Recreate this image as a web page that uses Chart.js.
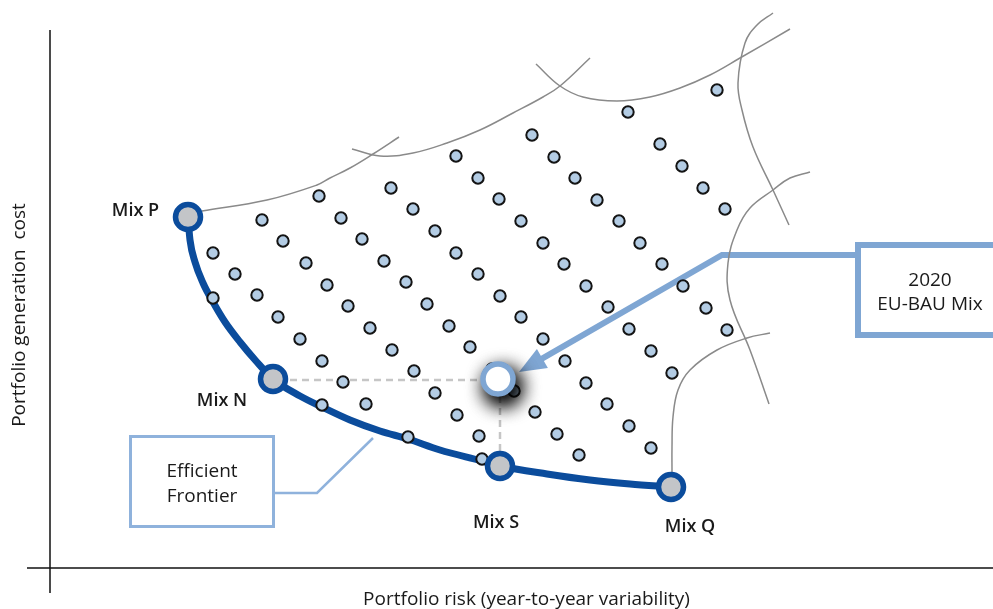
<!DOCTYPE html>
<html><head><meta charset="utf-8">
<script src="https://cdn.jsdelivr.net/npm/chart.js@4.4.1/dist/chart.umd.min.js"></script>
<style>html,body{margin:0;padding:0;background:#fff;overflow:hidden}canvas{display:block}</style>
</head><body>
<canvas id="c" width="993" height="609"></canvas>
<script>
// Units: risk (x) and generation cost (y), origin at the axes crossing.
// Candidate portfolio mixes (small dots), listed along their diagonals
const dotRisk = [
  163,185,207,228,250,272,293,316,
  163,272,358,432,
  212,233,256,277,298,320,342,364,385,407,429,
  269,291,312,334,356,377,399,420,442,464,485,507,529,
  341,363,385,406,428,450,471,493,515,536,557,579,601,
  406,428,449,471,493,514,536,558,579,601,622,
  482,504,525,547,569,590,612,633,656,677,
  578,610,632,653,675,667
];
const dotCost = [
  315,294,273,251,229,207,186,164,
  270,163,131,109,
  348,327,305,283,262,240,218,197,175,153,132,
  372,350,329,307,286,264,242,221,199,177,156,134,113,
  380,359,337,315,294,272,251,229,207,185,164,142,120,
  412,390,369,347,325,304,282,261,239,217,195,
  433,411,390,368,347,325,304,282,260,238,
  456,424,402,380,359,478
];
// Named mixes on the efficient frontier
const mixNames = ['Mix P','Mix N','Mix S','Mix Q'];
const mixRisk  = [138, 223, 450, 621];
const mixCost  = [351, 189, 102, 81];
// 2020 EU-BAU mix
const bauRisk = [448];
const bauCost = [189];
// Efficient frontier curve
const frontierRisk = [138,140,145,153,163,175,190,206,223,250,272,300,330,358,390,432,450,497,540,580,621];
const frontierCost = [351,328,306,285,266,246,226,207,189,172,161,148,137,129,118,107,102,94,88,84,81];
// Grey boundary curves of the feasible region
const boundaryCurves = [
  {risk:[152,217,267,280,300,323,349], cost:[357,368,383,390,400,414,431]},
  {risk:[302,330,363,397,430,463,493,510,540], cost:[419,412,415,425,438,455,471,482,510]},
  {risk:[486,510,533,567,600,630,660,690,740], cost:[504,482,471,467,471,480,493,510,539]},
  {risk:[723,707,695,688,692,703,723,739], cost:[555,543,525,485,458,421,378,343]},
  {risk:[760,740,723,700,687,678,680,700,719], cost:[396,390,378,360,338,305,268,218,164]},
  {risk:[720,697,667,640,628,623,622,622], cost:[235,230,218,198,178,151,121,96]}
];
// Dashed guides from the BAU mix
const guideH = {risk:[240,433], cost:[188,188]};
const guideV = {risk:[450,450], cost:[172,113]};
// Axis lines
const axisX = {risk:[-23,943], cost:[0,0]};
const axisY = {risk:[0,0], cost:[538,-25]};
// Annotations
const textLabels = [
  {t:'Mix P', risk:85.5, cost:352, w:'600', s:18},
  {t:'Mix N', risk:172, cost:162, w:'600', s:18},
  {t:'Mix S', risk:446, cost:40, w:'600', s:18},
  {t:'Mix Q', risk:640, cost:36, w:'600', s:18},
  {t:'Efficient', risk:152, cost:91, w:'400', s:19},
  {t:'Frontier', risk:152, cost:66, w:'400', s:19},
  {t:'2020', risk:880, cost:282, w:'400', s:19},
  {t:'EU-BAU Mix', risk:880, cost:258, w:'400', s:19}
];
const xTitle = 'Portfolio risk (year-to-year variability)';
const yTitle = 'Portfolio generation  cost';
const efBox = {r0:80.5, r1:223.5, c0:131.5, c1:41.5};
const efConnector = {risk:[223.5,267,323], cost:[75,75,130]};
const bauBox = {r0:808, r1:960, c0:323, c1:233};
const bauArrow = {risk:[808,672,469], cost:[313,313,196]};

const FONT = '"Open Sans","Noto Sans",sans-serif';
const pts = (rx, cy) => rx.map((v,i)=>({x:v, y:cy[i]}));
const lineDs = (p, color, width, order, extra) => Object.assign({
  data:p, showLine:true, pointRadius:0, borderColor:color, borderWidth:width,
  fill:false, order, clip:false, tension:0
}, extra||{});

const datasets = [];
datasets.push(lineDs(pts(axisX.risk, axisX.cost), '#111', 1.5, 300));
datasets.push(lineDs(pts(axisY.risk, axisY.cost), '#111', 1.5, 300));
boundaryCurves.forEach(c => datasets.push(lineDs(pts(c.risk,c.cost), '#8a8a8a', 1.5, 200, {tension:0.4})));
datasets.push(lineDs(pts(guideH.risk, guideH.cost), '#c6c6c6', 2.5, 150, {borderDash:[7,5]}));
datasets.push(lineDs(pts(guideV.risk, guideV.cost), '#c6c6c6', 2.5, 150, {borderDash:[7,5]}));
datasets.push(lineDs(pts(frontierRisk, frontierCost), '#0b4c9c', 7, 100, {cubicInterpolationMode:'monotone', borderCapStyle:'round'}));
datasets.push({data:pts(dotRisk, dotCost), pointRadius:5.7, pointBackgroundColor:'#b3cce4', pointBorderColor:'#141414', pointBorderWidth:2, order:50, clip:false});
datasets.push({data:pts(mixRisk, mixCost), pointRadius:12.5, pointBackgroundColor:'#c3c5c8', pointBorderColor:'#0b4c9c', pointBorderWidth:5.5, order:40, clip:false});
datasets.push({data:pts(bauRisk, bauCost), pointRadius:17, pointBackgroundColor:'#000', pointBorderWidth:0, order:30, clip:false});
datasets.push({data:pts(bauRisk, bauCost), pointRadius:15, pointBackgroundColor:'#ffffff', pointBorderColor:'#7fa6d3', pointBorderWidth:5.5, order:20, clip:false});
const shadowIndex = datasets.length - 2;

const decor = {
  id:'decor',
  beforeDatasetsDraw(chart){
    const ctx = chart.ctx, xs = chart.scales.x, ys = chart.scales.y;
    const X = v => xs.getPixelForValue(v), Y = v => ys.getPixelForValue(v);
    ctx.save();
    ctx.strokeStyle = '#8fb2dc'; ctx.lineWidth = 3;
    ctx.strokeRect(X(efBox.r0), Y(efBox.c0), X(efBox.r1)-X(efBox.r0), Y(efBox.c1)-Y(efBox.c0));
    ctx.lineWidth = 2.5; ctx.beginPath();
    efConnector.risk.forEach((r,i)=>{ const px=X(r), py=Y(efConnector.cost[i]); i?ctx.lineTo(px,py):ctx.moveTo(px,py); });
    ctx.stroke();
    ctx.strokeStyle = '#7fa6d3'; ctx.lineWidth = 6;
    ctx.strokeRect(X(bauBox.r0), Y(bauBox.c0), X(bauBox.r1)-X(bauBox.r0), Y(bauBox.c1)-Y(bauBox.c0));
    const ax = bauArrow.risk.map(X), ay = bauArrow.cost.map(Y);
    const n = ax.length-1;
    let dx = ax[n-1]-ax[n], dy = ay[n-1]-ay[n];
    const L = Math.hypot(dx,dy); dx/=L; dy/=L;
    const headLen = 27, headHalf = 11;
    ctx.lineWidth = 6; ctx.lineJoin='miter'; ctx.beginPath();
    ctx.moveTo(ax[0], ay[0]);
    for (let i=1;i<n;i++) ctx.lineTo(ax[i], ay[i]);
    ctx.lineTo(ax[n]+dx*headLen*0.8, ay[n]+dy*headLen*0.8);
    ctx.stroke();
    const bx = ax[n]+dx*headLen, by = ay[n]+dy*headLen;
    ctx.fillStyle = '#7fa6d3'; ctx.beginPath();
    ctx.moveTo(ax[n], ay[n]);
    ctx.lineTo(bx - dy*headHalf, by + dx*headHalf);
    ctx.lineTo(bx + dy*headHalf, by - dx*headHalf);
    ctx.closePath(); ctx.fill();
    ctx.restore();
  },
  beforeDatasetDraw(chart, args){
    if (args.index === shadowIndex){
      const ctx = chart.ctx; ctx.save();
      ctx.shadowColor = 'rgba(0,0,0,1)'; ctx.shadowBlur = 20;
      ctx.shadowOffsetX = 5; ctx.shadowOffsetY = 8;
    }
  },
  afterDatasetDraw(chart, args){
    if (args.index === shadowIndex){
      // second pass deepens the soft drop shadow
      args.meta.data.forEach(el => el.draw(chart.ctx));
      chart.ctx.restore();
    }
  },
  afterDatasetsDraw(chart){
    const ctx = chart.ctx, xs = chart.scales.x, ys = chart.scales.y;
    const X = v => xs.getPixelForValue(v), Y = v => ys.getPixelForValue(v);
    ctx.save();
    ctx.fillStyle = '#1a1a1a'; ctx.textAlign = 'center'; ctx.textBaseline = 'alphabetic';
    textLabels.forEach(l => { ctx.font = l.w+' '+l.s+'px '+FONT; ctx.fillText(l.t, X(l.risk), Y(l.cost)); });
    ctx.font = '400 19px '+FONT;
    ctx.fillText(xTitle, X(476.5), Y(-37));
    ctx.translate(X(-25), Y(253)); ctx.rotate(-Math.PI/2);
    ctx.fillText(yTitle, 0, 0);
    ctx.restore();
  }
};

new Chart(document.getElementById('c'), {
  type:'scatter',
  data:{datasets},
  options:{
    responsive:false, animation:false, devicePixelRatio:1,
    layout:{padding:0, autoPadding:false},
    plugins:{legend:{display:false}, tooltip:{enabled:false}},
    scales:{
      x:{type:'linear', min:-50, max:943, display:false},
      y:{type:'linear', min:-41, max:568, display:false}
    }
  },
  plugins:[decor]
});
</script></body></html>
